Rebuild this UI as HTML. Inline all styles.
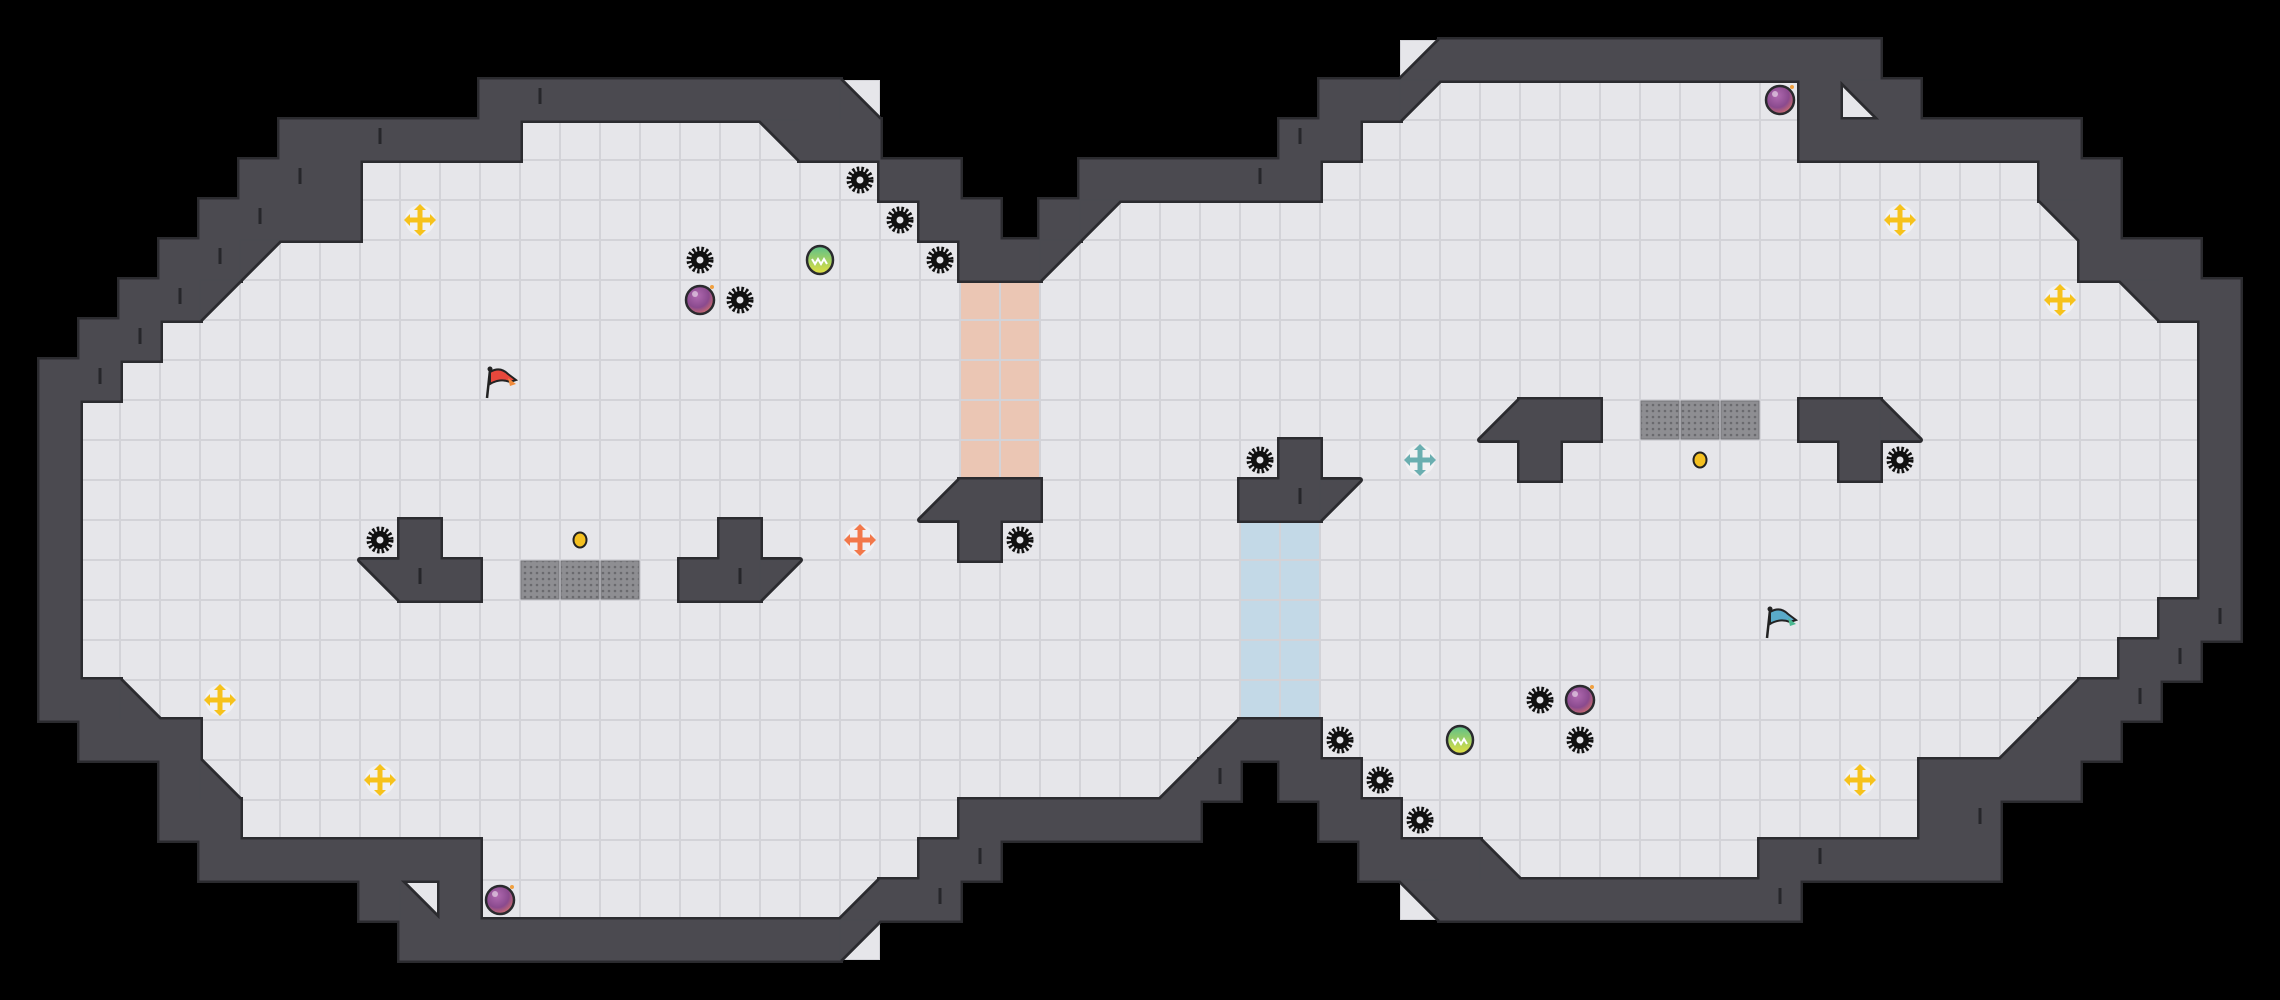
<!DOCTYPE html>
<html><head><meta charset="utf-8"><style>
html,body{margin:0;padding:0;background:#000;width:2280px;height:1000px;overflow:hidden}
svg{display:block}
</style></head><body>
<svg id="s" width="2280" height="1000" viewBox="0 0 2280 1000" xmlns="http://www.w3.org/2000/svg">
<defs>
<radialGradient id="bomb" cx="0.4" cy="0.35" r="0.7"><stop offset="0" stop-color="#b06ab0"/><stop offset="0.6" stop-color="#8a4a8e"/><stop offset="1" stop-color="#d4706a"/></radialGradient>
<linearGradient id="orb" x1="0" y1="0" x2="0" y2="1"><stop offset="0" stop-color="#5cc08a"/><stop offset="1" stop-color="#e4e040"/></linearGradient>
<pattern id="grate" width="6" height="6" patternUnits="userSpaceOnUse"><rect width="6" height="6" fill="#8e8e92"/><circle cx="3" cy="3" r="1.3" fill="#6a6a6e"/></pattern>
</defs>
<g id="floor"></g><g id="wallo"></g><g id="wall"></g><g id="items"></g>
</svg>
<script>
var T=40,R=25,C=57,g=[];
for(var r=0;r<R;r++){g.push([]);for(var c=0;c<C;c++)g[r].push('.');}
function s(r,a,b,ch){for(var c=a;c<=b;c++)g[r][c]=ch;}
// floor
var F=[[2,36,44],[3,13,18],[3,34,44],[4,9,21],[4,33,50],[5,9,22],[5,28,50],[6,7,23],[6,27,51],[7,6,23],[7,26,52],[8,4,54],[9,3,54]];
for(var r=10;r<=14;r++)F.push([r,2,54]);
F.push([15,2,53],[16,2,52],[17,4,50],[18,5,29],[18,33,49],[19,6,28],[19,34,47],[20,6,23],[20,35,47],[21,12,22],[21,38,43],[22,12,20]);
F.forEach(function(f){s(f[0],f[1],f[2],'f');});
for(var r=7;r<=11;r++)s(r,24,25,'p');
for(var r=13;r<=17;r++)s(r,31,32,'b');
s(14,13,15,'g');s(10,41,43,'g');
// walls
var W=[[1,36,46],[2,12,20],[2,33,34],[2,45,45],[2,47,47],[3,7,12],[3,20,21],[3,32,33],[3,45,51],
[4,6,8],[4,22,23],[4,27,32],[4,51,52],[5,5,8],[5,23,24],[5,26,26],[5,52,52],[6,4,5],[6,24,25],[6,52,54],
[7,3,4],[7,54,55],[8,2,3],[8,55,55],[9,1,2],[9,55,55],[10,1,1],[10,38,39],[10,45,46],[10,55,55],
[11,1,1],[11,32,32],[11,38,38],[11,46,46],[11,55,55],[12,1,1],[12,24,25],[12,31,32],[12,55,55],
[13,1,1],[13,10,10],[13,18,18],[13,24,24],[13,55,55],[14,1,1],[14,10,11],[14,17,18],[14,55,55],
[15,1,1],[15,54,55],[16,1,1],[16,53,54],[17,1,2],[17,52,53],[18,2,4],[18,31,32],[18,51,52],
[19,4,4],[19,30,30],[19,32,33],[19,48,51],[20,4,5],[20,24,29],[20,33,34],[20,48,49],
[21,5,11],[21,23,24],[21,34,36],[21,44,49],[22,9,9],[22,11,11],[22,22,23],[22,36,44],[23,10,20]];
W.forEach(function(f){s(f[0],f[1],f[2],'w');});
var D=[[1,35,'4'],[2,21,'3'],[2,35,'1'],[2,46,'2'],[3,19,'2'],[5,27,'1'],[5,51,'2'],[6,6,'1'],[6,26,'1'],
[7,5,'1'],[7,53,'2'],[10,37,'4'],[10,47,'3'],[12,23,'4'],[12,33,'1'],[14,9,'2'],[14,19,'1'],
[17,3,'3'],[17,51,'4'],[18,30,'4'],[18,50,'4'],[19,5,'3'],[19,29,'4'],[21,37,'3'],[22,10,'3'],[22,21,'4'],[22,35,'2'],[23,21,'1']];
D.forEach(function(d){g[d[0]][d[1]]=d[2];});
var NS='http://www.w3.org/2000/svg';
function el(p,tag,at){var e=document.createElementNS(NS,tag);for(var k in at)e.setAttribute(k,at[k]);document.getElementById(p).appendChild(e);return e;}
function tri(x,y,t){var a=[x,y],b=[x+T,y],c=[x+T,y+T],d=[x,y+T],p;
 if(t=='1')p=[a,b,d];else if(t=='2')p=[a,b,c];else if(t=='3')p=[a,c,d];else p=[b,c,d];
 return p.map(function(q){return q.join(',');}).join(' ');}
for(var r=0;r<R;r++)for(var c=0;c<C;c++){var v=g[r][c],x=c*T,y=r*T;
 if(v=='.')continue;
 if(v!='w'){var fill=v=='p'?'#ebc6b4':v=='b'?'#c3d9e7':'#e6e6ea';
  el('floor','rect',{x:x,y:y,width:T,height:T,fill:'#d3d3d8'});
  if(v=='g'){el('floor','rect',{x:x+1,y:y+1,width:T-2,height:T-2,fill:'url(#grate)',stroke:'#77777b','stroke-width':1});}
  else el('floor','rect',{x:x+1,y:y+1,width:T-2,height:T-2,fill:fill});
 }
 if(v=='w'){el('wallo','rect',{x:x,y:y,width:T,height:T,fill:'#2b2b2f',stroke:'#2b2b2f','stroke-width':6});
  el('wall','rect',{x:x-0.5,y:y-0.5,width:T+1,height:T+1,fill:'#4b4a50'});}
 if('1234'.indexOf(v)>=0){var pts=tri(x,y,v);
  el('wallo','polygon',{points:pts,fill:'#2b2b2f',stroke:'#2b2b2f','stroke-width':6,'stroke-linejoin':'round'});
  el('wall','polygon',{points:pts,fill:'#4b4a50',stroke:'#4b4a50','stroke-width':0.5});}
}
// wall marks
[[3,9],[4,7],[5,6],[6,5],[7,4],[8,3],[9,2],[2,13],[21,24],[22,23],[19,30],[3,32],[4,31],[15,55],[16,54],[17,53],[20,49],[21,45],[22,44],[14,10],[14,18],[12,32]].forEach(function(m){
 var x=m[1]*T+20,y=m[0]*T+8;el('wall','rect',{x:x-1.5,y:y,width:3,height:16,fill:'#26262a'});});
function cx(c){return c*T+20;}
function saw(c,r){var x=cx(c),y=cx(r);
 el('items','circle',{cx:x,cy:y,r:11,fill:'none',stroke:'#111','stroke-width':5,'stroke-dasharray':'2.4 2'});
 el('items','circle',{cx:x,cy:y,r:9,fill:'#111'});el('items','circle',{cx:x,cy:y,r:3.5,fill:'#e6e6ea'});}
function bomb(c,r){var x=cx(c),y=cx(r);
 el('items','circle',{cx:x,cy:y,r:14,fill:'url(#bomb)',stroke:'#2a2a2e','stroke-width':2.5});
 el('items','circle',{cx:x-5,cy:y-6,r:3,fill:'#fff',opacity:0.5});
 el('items','circle',{cx:x+12,cy:y-13,r:2,fill:'#f0a040'});}
function orb(c,r){var x=cx(c),y=cx(r);
 el('items','ellipse',{cx:x,cy:y,rx:13,ry:14,fill:'url(#orb)',stroke:'#2a2a2e','stroke-width':2.5});
 el('items','path',{d:'M'+(x-8)+' '+(y-1)+' l3 5 l3 -5 l3 5 l3 -5 l3 5',fill:'none',stroke:'#fff','stroke-width':2});}
function cross(c,r,col){var x=cx(c),y=cx(r);
 el('items','circle',{cx:x,cy:y,r:15,fill:'#fff',opacity:0.45});
 el('items','rect',{x:x-13,y:y-2.5,width:26,height:5,fill:col});
 el('items','rect',{x:x-2.5,y:y-13,width:5,height:26,fill:col});
 [[0,-1],[0,1],[-1,0],[1,0]].forEach(function(d){var tx=x+d[0]*16,ty=y+d[1]*16,px=-d[1],py=d[0];
  el('items','polygon',{points:tx+','+ty+' '+(x+d[0]*10+px*6)+','+(y+d[1]*10+py*6)+' '+(x+d[0]*10-px*6)+','+(y+d[1]*10-py*6),fill:col});});}
function coin(c,r){el('items','ellipse',{cx:cx(c),cy:cx(r),rx:6.5,ry:7.5,fill:'#f4c020',stroke:'#222','stroke-width':2});}
function flag(c,r,col,col2){var x=cx(c),y=cx(r);
 el('items','line',{x1:x-13,y1:y+18,x2:x-10,y2:y-10,stroke:'#222','stroke-width':2.5});
 el('items','circle',{cx:x-10,cy:y-11,r:2.5,fill:'#222'});
 el('items','path',{d:'M'+(x-10)+' '+(y-8)+' q10 -6 18 2 l8 6 l-6 2 q-10 -4 -20 2 z',fill:col,stroke:'#222','stroke-width':2});
 el('items','path',{d:'M'+(x+8)+' '+(y-2)+' l8 6 l-6 2 z',fill:col2});}
[[21,4],[22,5],[23,6],[17,6],[18,7],[9,13],[25,13],[31,11],[47,11],[38,17],[39,18],[33,18],[34,19],[35,20]].forEach(function(p){saw(p[0],p[1]);});
[[17,7],[12,22],[44,2],[39,17]].forEach(function(p){bomb(p[0],p[1]);});
orb(20,6);orb(36,18);
[[10,5],[5,17],[9,19],[47,5],[51,7],[46,19]].forEach(function(p){cross(p[0],p[1],'#f6c21c');});
cross(21,13,'#f2784a');cross(35,11,'#6aaeb0');
coin(14,13);coin(42,11);
flag(12,9,'#e8483c','#f08a3a');flag(44,15,'#5aaac8','#4ab890');
</script>
</body></html>
